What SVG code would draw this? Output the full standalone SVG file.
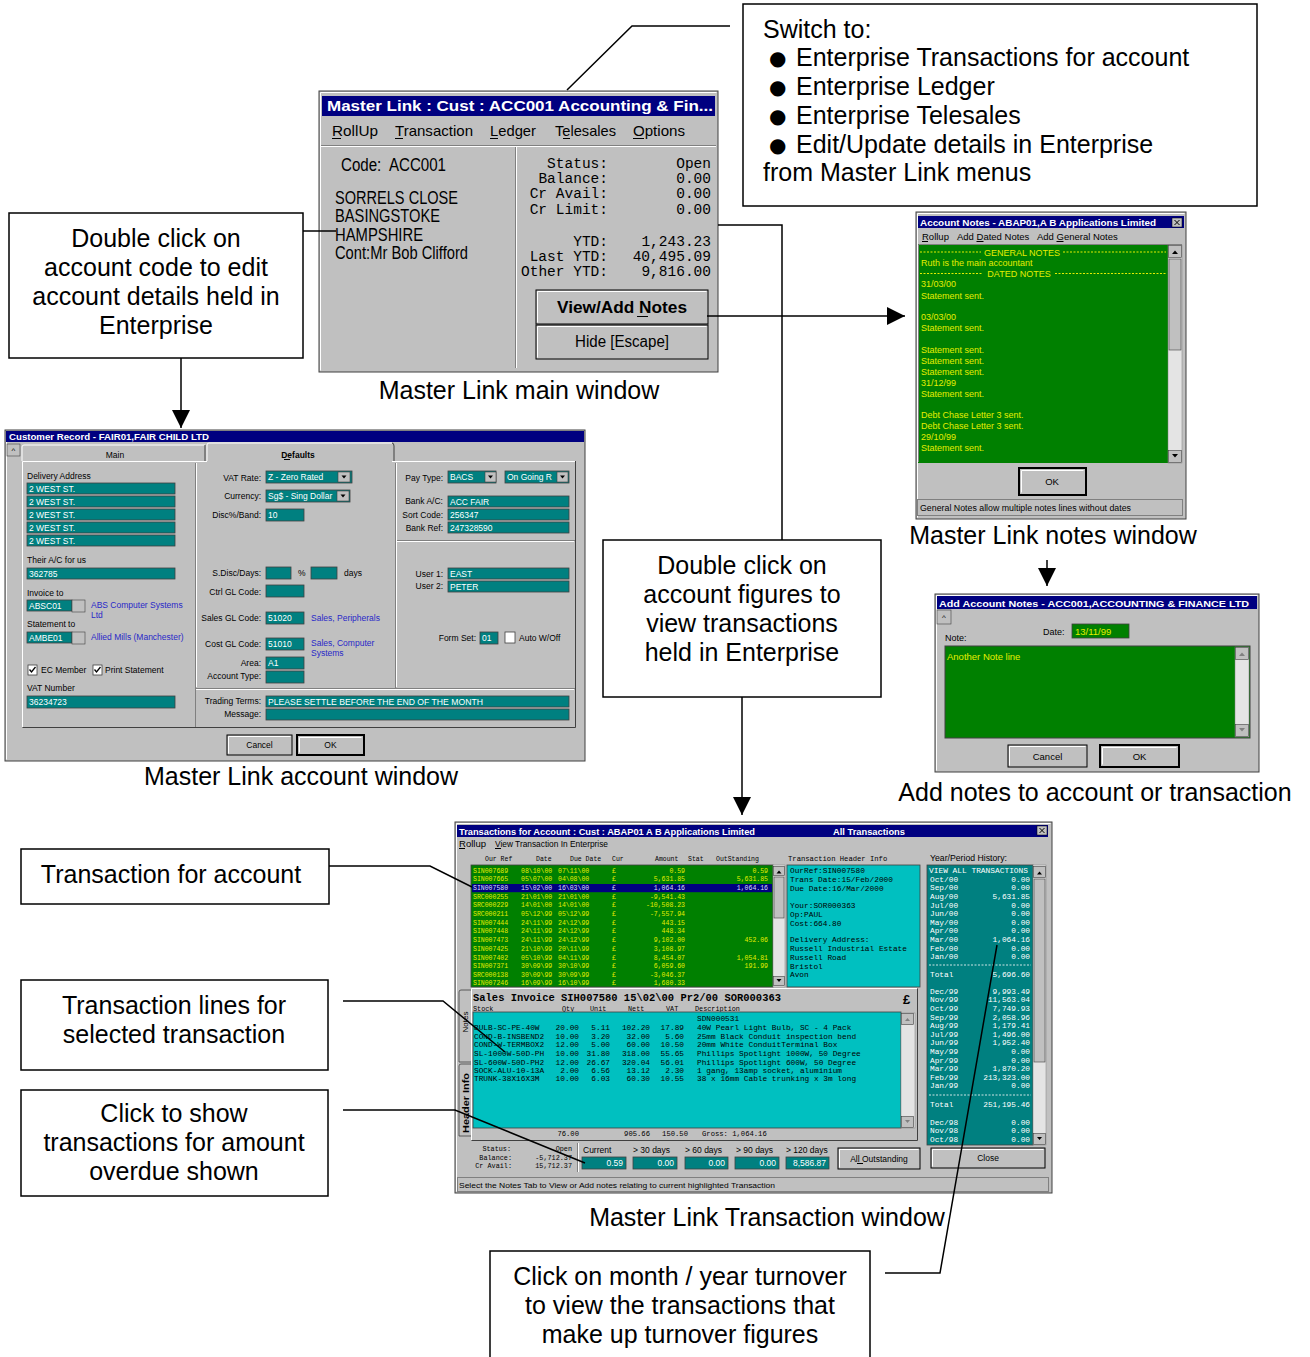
<svg xmlns="http://www.w3.org/2000/svg" width="1310" height="1357" viewBox="0 0 1310 1357">
<defs>
<style>
.ct{font-family:"Liberation Sans",Arial,sans-serif;font-size:25px;fill:#000}
.cc{text-anchor:middle}
.cb{fill:#fff;stroke:#000;stroke-width:1.5}
.cn{fill:none;stroke:#000;stroke-width:1.5}
.win{fill:#c0c0c0;stroke:#404040;stroke-width:1}
.ttl{fill:#000080}
.tt{font-family:"Liberation Sans",Arial,sans-serif;font-weight:bold;fill:#fff}
.u{font-family:"Liberation Sans",Arial,sans-serif;fill:#000}
.m{font-family:"Liberation Mono","DejaVu Sans Mono",monospace}
.fld{fill:#008080;stroke:#404040;stroke-width:0.8}
.ft{font-family:"Liberation Sans",Arial,sans-serif;font-size:8.5px;fill:#fff}
.lbl{font-family:"Liberation Sans",Arial,sans-serif;font-size:8.5px;fill:#000}
.blu{font-family:"Liberation Sans",Arial,sans-serif;font-size:8.5px;fill:#2828c8}
.btn{fill:#c0c0c0;stroke:#000;stroke-width:1}
.dbtn{fill:#c0c0c0;stroke:#000;stroke-width:2}
.hl{fill:none;stroke:#fff;stroke-width:1}
.sh{fill:none;stroke:#808080;stroke-width:1}
.gr{fill:#008000}
.yl{fill:#e4ee00}
.trk{fill:#e4e4e4;stroke:#808080;stroke-width:0.5}
.sb{fill:#c0c0c0;stroke:#404040;stroke-width:0.6}
.ul{stroke:#000;stroke-width:1}
</style>
<marker id="ah" viewBox="0 0 18 18" refX="18" refY="9" markerWidth="18" markerHeight="18" markerUnits="userSpaceOnUse" orient="auto"><path d="M0,0 L18,9 L0,18 z" fill="#000"/></marker>
</defs>
<rect width="1310" height="1357" fill="#fff"/>

<!-- ============ MAIN WINDOW ============ -->
<g id="main-window">
<rect class="win" x="319" y="91" width="399" height="281" stroke="#000"/>
<path class="hl" d="M320.5,370.5 V92.5 H716.5"/>
<rect class="ttl" x="322" y="96" width="393" height="20"/>
<text class="tt" x="327" y="111" font-size="15" textLength="386" lengthAdjust="spacingAndGlyphs">Master Link : Cust : ACC001 Accounting &amp; Fin...</text>
<g class="u" font-size="15">
<text x="332" y="136" textLength="46" lengthAdjust="spacingAndGlyphs">RollUp</text>
<text x="395" y="136" textLength="78" lengthAdjust="spacingAndGlyphs">Transaction</text>
<text x="490" y="136" textLength="46" lengthAdjust="spacingAndGlyphs">Ledger</text>
<text x="555" y="136" textLength="61" lengthAdjust="spacingAndGlyphs">Telesales</text>
<text x="633" y="136" textLength="52" lengthAdjust="spacingAndGlyphs">Options</text>
</g>
<path class="ul" d="M332,138.5h9 M395,138.5h8 M490,138.5h8 M563,138.5h7 M633,138.5h11"/>
<path class="sh" d="M321,145.5 H716 M515.5,147 V368"/>
<path class="hl" d="M321,146.5 H716 M516.5,147 V368"/>
<g class="u" font-size="18">
<text x="341" y="171" textLength="105" lengthAdjust="spacingAndGlyphs">Code:&#160; ACC001</text>
<text x="335" y="204" textLength="123" lengthAdjust="spacingAndGlyphs">SORRELS CLOSE</text>
<text x="335" y="222" textLength="105" lengthAdjust="spacingAndGlyphs">BASINGSTOKE</text>
<text x="335" y="241" textLength="88" lengthAdjust="spacingAndGlyphs">HAMPSHIRE</text>
<text x="335" y="259" textLength="133" lengthAdjust="spacingAndGlyphs">Cont:Mr Bob Clifford</text>
</g>
<g class="m" font-size="14.5" text-anchor="end">
<text x="608" y="168">Status:</text>
<text x="608" y="183">Balance:</text>
<text x="608" y="198">Cr Avail:</text>
<text x="608" y="214">Cr Limit:</text>
<text x="608" y="246">YTD:</text>
<text x="608" y="261">Last YTD:</text>
<text x="608" y="276">Other YTD:</text>
<text x="711" y="168">Open</text>
<text x="711" y="183">0.00</text>
<text x="711" y="198">0.00</text>
<text x="711" y="214">0.00</text>
<text x="711" y="246">1,243.23</text>
<text x="711" y="261">40,495.09</text>
<text x="711" y="276">9,816.00</text>
</g>
<rect class="btn" x="536" y="290" width="172" height="34"/>
<path class="hl" d="M537.5,322.5 V291.5 H706.5"/>
<text class="u cc" x="622" y="313" font-size="16" font-weight="bold" textLength="130" lengthAdjust="spacingAndGlyphs">View/Add Notes</text>
<path class="ul" d="M637,316.5h11"/>
<rect class="btn" x="536" y="325" width="172" height="34"/>
<path class="hl" d="M537.5,357.5 V326.5 H706.5"/>
<text class="u cc" x="622" y="347" font-size="16" textLength="94" lengthAdjust="spacingAndGlyphs">Hide [Escape]</text>
</g>

<!-- ============ NOTES WINDOW ============ -->
<g id="notes-window">
<rect class="win" x="916" y="212" width="270" height="307"/>
<path class="hl" d="M917.5,517.5 V213.5 H1184.5"/>
<rect class="ttl" x="918" y="216" width="266" height="12"/>
<text class="tt" x="920" y="226" font-size="9.5" textLength="236" lengthAdjust="spacingAndGlyphs">Account Notes - ABAP01,A B Applications Limited</text>
<rect x="1172" y="218" width="10" height="9" fill="#c0c0c0" stroke="#000" stroke-width="0.5"/>
<path d="M1174.5,220 l5,5 M1179.5,220 l-5,5" stroke="#000" stroke-width="1"/>
<g class="u" font-size="9.5">
<text x="922" y="240">Rollup</text>
<text x="957" y="240">Add Dated Notes</text>
<text x="1037" y="240">Add General Notes</text>
</g>
<path class="ul" d="M922,241.5h6 M976.5,241.5h7 M1056.5,241.5h7"/>
<rect class="gr" x="918" y="244" width="250" height="219"/>
<path class="sh" d="M918.5,462 V244.5 H1182"/>
<rect class="trk" x="1168" y="245" width="14" height="218"/>
<rect class="sb" x="1168.5" y="245.5" width="13" height="12"/>
<path d="M1172,254 h6 l-3,-3.5 z" fill="#000"/>
<rect class="sb" x="1169" y="259" width="12" height="91"/>
<rect class="sb" x="1168.5" y="450.5" width="13" height="12"/>
<path d="M1172,454 h6 l-3,3.5 z" fill="#000"/>
<path d="M920,252 H981 M1063,252 H1166 M920,273.5 H983 M1055,273.5 H1166" stroke="#e4ee00" stroke-width="1" stroke-dasharray="2,1.5"/>
<g class="u yl" font-size="9">
<text x="1022" y="255.5" text-anchor="middle">GENERAL NOTES</text>
<text x="1019" y="277" text-anchor="middle">DATED NOTES</text>
<text x="921" y="265.5">Ruth is the main accountant</text>
<text x="921" y="287">31/03/00</text>
<text x="921" y="299">Statement sent.</text>
<text x="921" y="320">03/03/00</text>
<text x="921" y="331">Statement sent.</text>
<text x="921" y="353">Statement sent.</text>
<text x="921" y="364">Statement sent.</text>
<text x="921" y="375">Statement sent.</text>
<text x="921" y="386">31/12/99</text>
<text x="921" y="397">Statement sent.</text>
<text x="921" y="418">Debt Chase Letter 3 sent.</text>
<text x="921" y="429">Debt Chase Letter 3 sent.</text>
<text x="921" y="440">29/10/99</text>
<text x="921" y="451">Statement sent.</text>
</g>
<rect class="dbtn" x="1019" y="468" width="67" height="27"/>
<path class="hl" d="M1021.5,492.5 V470.5 H1083.5"/>
<text class="u cc" x="1052" y="485" font-size="9.5">OK</text>
<rect x="917.5" y="499.5" width="265" height="16" fill="none" stroke="#808080"/>
<text class="u" x="920" y="511" font-size="8.5" textLength="211" lengthAdjust="spacingAndGlyphs">General Notes allow multiple notes lines without dates</text>
</g>

<!-- ============ ACCOUNT (CUSTOMER RECORD) WINDOW ============ -->
<g id="account-window">
<rect class="win" x="5" y="430" width="580" height="331"/>
<path class="hl" d="M6.5,759.5 V431.5 H583.5"/>
<rect class="ttl" x="6" y="431" width="578" height="11"/>
<text class="tt" x="9" y="440" font-size="9" textLength="200" lengthAdjust="spacingAndGlyphs">Customer Record - FAIR01,FAIR CHILD LTD</text>
<rect class="sb" x="7" y="444" width="13" height="12"/>
<text class="u cc" x="13.5" y="453" font-size="8">^</text>
<!-- tabs -->
<path d="M22,461 V447 Q22,445 24,445 H205" fill="none" stroke="#fff"/>
<path d="M205,445 V461" stroke="#404040"/>
<text class="lbl cc" x="115" y="458">Main</text>
<path d="M207,461 V445 Q207,443 209,443 H392" fill="none" stroke="#fff"/>
<path d="M392,443 Q394,443 394,446 V461" fill="none" stroke="#404040"/>
<text class="lbl cc" x="298" y="458" font-weight="bold">Defaults</text>
<path class="ul" d="M284,459.5h6" stroke-width="0.8"/>
<!-- panel -->
<path class="hl" d="M22.5,727 V461.5 H207 M392,461.5 H575"/>
<path d="M22.5,727.5 H575.5 V461" fill="none" stroke="#404040"/>
<path class="sh" d="M195.5,463 V727 M195,688.5 H575 M395.5,463 V688 M395,540.5 H575"/>
<path class="hl" d="M196.5,463 V687 M196,689.5 H574 M396.5,463 V687 M396,541.5 H574"/>
<!-- left column -->
<text class="lbl" x="27" y="479">Delivery Address</text>
<rect class="fld" x="27" y="483" width="148" height="11"/>
<rect class="fld" x="27" y="496" width="148" height="11"/>
<rect class="fld" x="27" y="509" width="148" height="11"/>
<rect class="fld" x="27" y="522" width="148" height="11"/>
<rect class="fld" x="27" y="535" width="148" height="11"/>
<g class="ft">
<text x="29" y="492">2 WEST ST.</text>
<text x="29" y="505">2 WEST ST.</text>
<text x="29" y="518">2 WEST ST.</text>
<text x="29" y="531">2 WEST ST.</text>
<text x="29" y="544">2 WEST ST.</text>
</g>
<text class="lbl" x="27" y="563">Their A/C for us</text>
<rect class="fld" x="27" y="568" width="148" height="11"/>
<text class="ft" x="29" y="577">362785</text>
<text class="lbl" x="27" y="596">Invoice to</text>
<rect class="fld" x="27" y="600" width="45" height="11"/>
<text class="ft" x="29" y="609">ABSC01</text>
<rect class="sb" x="72" y="600" width="13" height="12"/>
<text class="blu" x="91" y="608">ABS Computer Systems</text>
<text class="blu" x="91" y="618">Ltd</text>
<text class="lbl" x="27" y="627">Statement to</text>
<rect class="fld" x="27" y="632" width="45" height="11"/>
<text class="ft" x="29" y="641">AMBE01</text>
<rect class="sb" x="72" y="632" width="13" height="12"/>
<text class="blu" x="91" y="640">Allied Mills (Manchester)</text>
<rect x="28" y="665" width="9" height="10" fill="#fff" stroke="#404040" stroke-width="0.8"/>
<path d="M29.5,669.5 l2,2.5 l4,-5" fill="none" stroke="#000" stroke-width="1.3"/>
<text class="lbl" x="41" y="673">EC Member</text>
<rect x="93" y="665" width="9" height="10" fill="#fff" stroke="#404040" stroke-width="0.8"/>
<path d="M94.5,669.5 l2,2.5 l4,-5" fill="none" stroke="#000" stroke-width="1.3"/>
<text class="lbl" x="105" y="673">Print Statement</text>
<text class="lbl" x="27" y="691">VAT Number</text>
<rect class="fld" x="27" y="696" width="148" height="12"/>
<text class="ft" x="29" y="705">36234723</text>
<!-- middle column -->
<g class="lbl" text-anchor="end">
<text x="261" y="481">VAT Rate:</text>
<text x="261" y="499">Currency:</text>
<text x="261" y="518">Disc%/Band:</text>
<text x="261" y="576">S.Disc/Days:</text>
<text x="261" y="595">Ctrl GL Code:</text>
<text x="261" y="621">Sales GL Code:</text>
<text x="261" y="647">Cost GL Code:</text>
<text x="261" y="666">Area:</text>
<text x="261" y="679">Account Type:</text>
<text x="261" y="704">Trading Terms:</text>
<text x="261" y="717">Message:</text>
</g>
<rect class="fld" x="266" y="471" width="86" height="12"/>
<text class="ft" x="268" y="480">Z - Zero Rated</text>
<rect class="sb" x="338" y="472" width="12" height="10"/>
<path d="M341.5,475.5 h5 l-2.5,3 z" fill="#000"/>
<rect class="fld" x="266" y="490" width="84" height="12"/>
<text class="ft" x="268" y="499">Sg$ - Sing Dollar</text>
<rect class="sb" x="337" y="491" width="12" height="10"/>
<path d="M340.5,494.5 h5 l-2.5,3 z" fill="#000"/>
<rect class="fld" x="266" y="509" width="38" height="12"/>
<text class="ft" x="268" y="518">10</text>
<rect class="fld" x="266" y="567" width="25" height="12"/>
<text class="lbl" x="298" y="576">%</text>
<rect class="fld" x="311" y="567" width="26" height="12"/>
<text class="lbl" x="344" y="576">days</text>
<rect class="fld" x="266" y="585" width="38" height="12"/>
<rect class="fld" x="266" y="612" width="38" height="12"/>
<text class="ft" x="268" y="621">51020</text>
<text class="blu" x="311" y="621">Sales, Peripherals</text>
<rect class="fld" x="266" y="638" width="38" height="12"/>
<text class="ft" x="268" y="647">51010</text>
<text class="blu" x="311" y="646">Sales, Computer</text>
<text class="blu" x="311" y="656">Systems</text>
<rect class="fld" x="266" y="657" width="38" height="12"/>
<text class="ft" x="268" y="666">A1</text>
<rect class="fld" x="266" y="671" width="38" height="12"/>
<rect class="fld" x="266" y="696" width="303" height="11"/>
<text class="ft" x="268" y="705" textLength="215" lengthAdjust="spacingAndGlyphs">PLEASE SETTLE BEFORE THE END OF THE MONTH</text>
<rect class="fld" x="266" y="709" width="303" height="11"/>
<!-- right column -->
<g class="lbl" text-anchor="end">
<text x="443" y="481">Pay Type:</text>
<text x="443" y="504">Bank A/C:</text>
<text x="443" y="518">Sort Code:</text>
<text x="443" y="531">Bank Ref:</text>
<text x="443" y="577">User 1:</text>
<text x="443" y="589">User 2:</text>
<text x="476" y="641">Form Set:</text>
</g>
<rect class="fld" x="448" y="471" width="48" height="12"/>
<text class="ft" x="450" y="480">BACS</text>
<rect class="sb" x="485" y="472" width="11" height="10"/>
<path d="M488,475.5 h5 l-2.5,3 z" fill="#000"/>
<rect class="fld" x="505" y="471" width="64" height="12"/>
<text class="ft" x="507" y="480">On Going R</text>
<rect class="sb" x="557" y="472" width="11" height="10"/>
<path d="M560,475.5 h5 l-2.5,3 z" fill="#000"/>
<rect class="fld" x="448" y="496" width="121" height="11"/>
<text class="ft" x="450" y="505">ACC FAIR</text>
<rect class="fld" x="448" y="509" width="121" height="11"/>
<text class="ft" x="450" y="518">256347</text>
<rect class="fld" x="448" y="522" width="121" height="11"/>
<text class="ft" x="450" y="531">247328590</text>
<rect class="fld" x="448" y="568" width="121" height="11"/>
<text class="ft" x="450" y="577">EAST</text>
<rect class="fld" x="448" y="581" width="121" height="11"/>
<text class="ft" x="450" y="590">PETER</text>
<rect class="fld" x="480" y="632" width="18" height="12"/>
<text class="ft" x="482" y="641">01</text>
<rect x="505" y="632" width="10" height="11" fill="#fff" stroke="#404040" stroke-width="0.8"/>
<text class="lbl" x="519" y="641">Auto W/Off</text>
<!-- buttons -->
<rect class="btn" x="227" y="735" width="65" height="20"/>
<path class="hl" d="M228.5,753.5 V736.5 H290.5"/>
<text class="lbl cc" x="259.5" y="748">Cancel</text>
<rect class="dbtn" x="297" y="735" width="67" height="20"/>
<path class="hl" d="M299.5,752.5 V737.5 H361.5"/>
<text class="lbl cc" x="330.5" y="748">OK</text>
</g>

<!-- ============ ADD NOTES WINDOW ============ -->
<g id="add-notes-window">
<rect class="win" x="935" y="594" width="324" height="178"/>
<path class="hl" d="M936.5,770.5 V595.5 H1257.5"/>
<rect class="ttl" x="937" y="596" width="320" height="13"/>
<text class="tt" x="939" y="606.5" font-size="9.5" textLength="310" lengthAdjust="spacingAndGlyphs">Add Account Notes - ACC001,ACCOUNTING &amp; FINANCE LTD</text>
<rect class="sb" x="937" y="610" width="14" height="14"/>
<text class="u cc" x="944" y="620" font-size="8">^</text>
<text class="u" x="945" y="641" font-size="9">Note:</text>
<text class="u" x="1043" y="635" font-size="9">Date:</text>
<rect x="1072" y="624" width="57" height="14" fill="#008000" stroke="#404040" stroke-width="0.8"/>
<text class="u yl" x="1075" y="635" font-size="9.5">13/11/99</text>
<rect x="945" y="646" width="305" height="92" fill="#008000" stroke="#404040" stroke-width="1"/>
<text class="u yl" x="947" y="660" font-size="9.5">Another Note line</text>
<rect class="trk" x="1235" y="647" width="14" height="90"/>
<rect class="sb" x="1235.5" y="647.5" width="13" height="12"/>
<path d="M1239,656 h6 l-3,-3.5 z" fill="#808080"/>
<rect class="sb" x="1235.5" y="724.5" width="13" height="12"/>
<path d="M1239,728 h6 l-3,3.5 z" fill="#808080"/>
<rect class="btn" x="1008" y="745" width="79" height="22"/>
<path class="hl" d="M1009.5,765.5 V746.5 H1085.5"/>
<text class="u cc" x="1047.5" y="760" font-size="9.5">Cancel</text>
<rect class="dbtn" x="1100" y="745" width="79" height="22"/>
<path class="hl" d="M1102.5,764.5 V747.5 H1176.5"/>
<text class="u cc" x="1139.5" y="760" font-size="9.5">OK</text>
</g>

<!-- ============ TRANSACTIONS WINDOW ============ -->
<g id="transactions-window">
<rect class="win" x="455" y="822" width="597" height="371"/>
<path class="hl" d="M456.5,1191.5 V823.5 H1050.5"/>
<rect class="ttl" x="457" y="825" width="591" height="12"/>
<text class="tt" x="459" y="834.5" font-size="9.5" textLength="296" lengthAdjust="spacingAndGlyphs">Transactions for Account : Cust : ABAP01 A B Applications Limited</text>
<text class="tt cc" x="869" y="834.5" font-size="9.5" textLength="72" lengthAdjust="spacingAndGlyphs">All Transactions</text>
<rect x="1037" y="826" width="10" height="9" fill="#c0c0c0" stroke="#000" stroke-width="0.5"/>
<path d="M1039.5,828 l5,5 M1044.5,828 l-5,5" stroke="#000" stroke-width="1"/>
<g class="u" font-size="9">
<text x="459" y="847" textLength="27" lengthAdjust="spacingAndGlyphs">Rollup</text>
<text x="495" y="847" textLength="113" lengthAdjust="spacingAndGlyphs">View Transaction In Enterprise</text>
</g>
<path class="ul" d="M459,848.5h6 M495,848.5h6"/>
<g class="m" font-size="6.5">
<text x="485" y="860.5">Our Ref</text>
<text x="536" y="860.5">Date</text>
<text x="570" y="860.5">Due Date</text>
<text x="612" y="860.5">Cur</text>
<text x="655" y="860.5">Amount</text>
<text x="688" y="860.5">Stat</text>
<text x="716" y="860.5">OutStanding</text>
</g>
<text class="m" x="788" y="860.5" font-size="7.2">Transaction Header Info</text>
<text class="u" x="930" y="860.5" font-size="9" textLength="77" lengthAdjust="spacingAndGlyphs">Year/Period History:</text>
<!-- list -->
<rect class="gr" x="471" y="865" width="302" height="122" stroke="#404040" stroke-width="0.8"/>
<rect x="472" y="884" width="300" height="8.2" fill="#000080"/>
<rect class="trk" x="773" y="865" width="12" height="122"/>
<rect class="sb" x="773.5" y="866.5" width="11" height="9"/>
<path d="M776.5,873.5 h5 l-2.5,-3 z" fill="#000"/>
<rect class="sb" x="774" y="877" width="10" height="41"/>
<rect class="sb" x="773.5" y="976.5" width="11" height="9"/>
<path d="M776.5,979 h5 l-2.5,3 z" fill="#000"/>
<g class="m yl" font-size="6.5">
<text x="473"><tspan x="473" y="872.5">SIN007689</tspan><tspan x="473" y="881.2">SIN007665</tspan><tspan x="473" y="898.6">SRC000255</tspan><tspan x="473" y="907.3">SRC000229</tspan><tspan x="473" y="916">SRC000211</tspan><tspan x="473" y="924.7">SIN007444</tspan><tspan x="473" y="933.4">SIN007448</tspan><tspan x="473" y="942.1">SIN007473</tspan><tspan x="473" y="950.8">SIN007425</tspan><tspan x="473" y="959.5">SIN007402</tspan><tspan x="473" y="968.2">SIN007371</tspan><tspan x="473" y="976.9">SRC000138</tspan><tspan x="473" y="985.4">SIN007246</tspan></text>
<text x="521"><tspan x="521" y="872.5">08\10\00</tspan><tspan x="521" y="881.2">05\07\00</tspan><tspan x="521" y="898.6">21\01\00</tspan><tspan x="521" y="907.3">14\01\00</tspan><tspan x="521" y="916">05\12\99</tspan><tspan x="521" y="924.7">24\11\99</tspan><tspan x="521" y="933.4">24\11\99</tspan><tspan x="521" y="942.1">24\11\99</tspan><tspan x="521" y="950.8">21\10\99</tspan><tspan x="521" y="959.5">05\10\99</tspan><tspan x="521" y="968.2">30\09\99</tspan><tspan x="521" y="976.9">30\09\99</tspan><tspan x="521" y="985.4">16\09\99</tspan></text>
<text x="558"><tspan x="558" y="872.5">07\11\00</tspan><tspan x="558" y="881.2">04\08\00</tspan><tspan x="558" y="898.6">21\01\00</tspan><tspan x="558" y="907.3">14\01\00</tspan><tspan x="558" y="916">05\12\99</tspan><tspan x="558" y="924.7">24\12\99</tspan><tspan x="558" y="933.4">24\12\99</tspan><tspan x="558" y="942.1">24\12\99</tspan><tspan x="558" y="950.8">20\11\99</tspan><tspan x="558" y="959.5">04\11\99</tspan><tspan x="558" y="968.2">30\10\99</tspan><tspan x="558" y="976.9">30\09\99</tspan><tspan x="558" y="985.4">16\10\99</tspan></text>
<text x="612"><tspan x="612" y="872.5">£</tspan><tspan x="612" y="881.2">£</tspan><tspan x="612" y="898.6">£</tspan><tspan x="612" y="907.3">£</tspan><tspan x="612" y="916">£</tspan><tspan x="612" y="924.7">£</tspan><tspan x="612" y="933.4">£</tspan><tspan x="612" y="942.1">£</tspan><tspan x="612" y="950.8">£</tspan><tspan x="612" y="959.5">£</tspan><tspan x="612" y="968.2">£</tspan><tspan x="612" y="976.9">£</tspan><tspan x="612" y="985.4">£</tspan></text>
<text x="685" text-anchor="end"><tspan x="685" y="872.5">0.59</tspan><tspan x="685" y="881.2">5,631.85</tspan><tspan x="685" y="898.6">-9,541.43</tspan><tspan x="685" y="907.3">-10,508.23</tspan><tspan x="685" y="916">-7,557.94</tspan><tspan x="685" y="924.7">443.15</tspan><tspan x="685" y="933.4">448.34</tspan><tspan x="685" y="942.1">9,102.00</tspan><tspan x="685" y="950.8">3,108.97</tspan><tspan x="685" y="959.5">8,454.07</tspan><tspan x="685" y="968.2">6,059.60</tspan><tspan x="685" y="976.9">-3,046.37</tspan><tspan x="685" y="985.4">1,680.33</tspan></text>
<text x="768" text-anchor="end"><tspan x="768" y="872.5">0.59</tspan><tspan x="768" y="881.2">5,631.85</tspan><tspan x="768" y="942.1">452.06</tspan><tspan x="768" y="959.5">1,054.81</tspan><tspan x="768" y="968.2">191.99</tspan></text>
</g>
<g class="m" font-size="6.5" fill="#dcdcff">
<text x="473" y="889.9">SIN007580</text>
<text x="521" y="889.9">15\02\00</text>
<text x="558" y="889.9">16\03\00</text>
<text x="612" y="889.9">£</text>
<text x="685" y="889.9" text-anchor="end">1,064.16</text>
<text x="768" y="889.9" text-anchor="end">1,064.16</text>
</g>
<!-- header info -->
<rect x="787" y="865" width="133" height="122" fill="#00c0c0" stroke="#404040" stroke-width="0.8"/>
<g class="m" font-size="7.8" fill="#000">
<text x="790"><tspan x="790" y="873">OurRef:SIN007580</tspan><tspan x="790" y="882">Trans Date:15/Feb/2000</tspan><tspan x="790" y="891">Due Date:16/Mar/2000</tspan><tspan x="790" y="908">Your:SOR000363</tspan><tspan x="790" y="917">Op:PAUL</tspan><tspan x="790" y="926">Cost:664.80</tspan><tspan x="790" y="942">Delivery Address:</tspan><tspan x="790" y="951">Russell Industrial Estate</tspan><tspan x="790" y="960">Russell Road</tspan><tspan x="790" y="969">Bristol</tspan><tspan x="790" y="977">Avon</tspan></text>
</g>
<!-- year/period history -->
<rect x="927" y="865" width="106" height="280" fill="#008080" stroke="#404040" stroke-width="0.8"/>
<rect class="trk" x="1033" y="865" width="13" height="280"/>
<rect class="sb" x="1033.5" y="866.5" width="12" height="11"/>
<path d="M1037,874.5 h5 l-2.5,-3 z" fill="#000"/>
<rect class="sb" x="1034" y="879" width="11" height="183"/>
<rect class="sb" x="1033.5" y="1133.5" width="12" height="11"/>
<path d="M1037,1137 h5 l-2.5,3 z" fill="#000"/>
<path d="M929,965 H1031 M929,1095 H1031" stroke="#fff" stroke-width="0.8" stroke-dasharray="2,1.5"/>
<g class="m" font-size="7.8" fill="#fff">
<text x="929" y="872.8" textLength="99" lengthAdjust="spacingAndGlyphs">VIEW ALL TRANSACTIONS</text>
<text x="930"><tspan x="930" y="881.8">Oct/00</tspan><tspan x="930" y="890.4">Sep/00</tspan><tspan x="930" y="899">Aug/00</tspan><tspan x="930" y="907.6">Jul/00</tspan><tspan x="930" y="916.2">Jun/00</tspan><tspan x="930" y="924.8">May/00</tspan><tspan x="930" y="933.4">Apr/00</tspan><tspan x="930" y="942">Mar/00</tspan><tspan x="930" y="950.6">Feb/00</tspan><tspan x="930" y="959.2">Jan/00</tspan><tspan x="930" y="976.8">Total</tspan><tspan x="930" y="993.8">Dec/99</tspan><tspan x="930" y="1002.4">Nov/99</tspan><tspan x="930" y="1011">Oct/99</tspan><tspan x="930" y="1019.6">Sep/99</tspan><tspan x="930" y="1028.2">Aug/99</tspan><tspan x="930" y="1036.8">Jul/99</tspan><tspan x="930" y="1045.4">Jun/99</tspan><tspan x="930" y="1054">May/99</tspan><tspan x="930" y="1062.6">Apr/99</tspan><tspan x="930" y="1071.2">Mar/99</tspan><tspan x="930" y="1079.8">Feb/99</tspan><tspan x="930" y="1088.4">Jan/99</tspan><tspan x="930" y="1106.8">Total</tspan><tspan x="930" y="1124.8">Dec/98</tspan><tspan x="930" y="1133.4">Nov/98</tspan><tspan x="930" y="1142">Oct/98</tspan></text>
<text x="1030" text-anchor="end"><tspan x="1030" y="881.8">0.00</tspan><tspan x="1030" y="890.4">0.00</tspan><tspan x="1030" y="899">5,631.85</tspan><tspan x="1030" y="907.6">0.00</tspan><tspan x="1030" y="916.2">0.00</tspan><tspan x="1030" y="924.8">0.00</tspan><tspan x="1030" y="933.4">0.00</tspan><tspan x="1030" y="942">1,064.16</tspan><tspan x="1030" y="950.6">0.00</tspan><tspan x="1030" y="959.2">0.00</tspan><tspan x="1030" y="976.8">5,696.60</tspan><tspan x="1030" y="993.8">9,993.49</tspan><tspan x="1030" y="1002.4">11,563.04</tspan><tspan x="1030" y="1011">7,749.93</tspan><tspan x="1030" y="1019.6">2,058.96</tspan><tspan x="1030" y="1028.2">1,179.41</tspan><tspan x="1030" y="1036.8">1,496.00</tspan><tspan x="1030" y="1045.4">1,952.40</tspan><tspan x="1030" y="1054">0.00</tspan><tspan x="1030" y="1062.6">0.00</tspan><tspan x="1030" y="1071.2">1,870.20</tspan><tspan x="1030" y="1079.8">213,323.00</tspan><tspan x="1030" y="1088.4">0.00</tspan><tspan x="1030" y="1106.8">251,195.46</tspan><tspan x="1030" y="1124.8">0.00</tspan><tspan x="1030" y="1133.4">0.00</tspan><tspan x="1030" y="1142">0.00</tspan></text>
</g>
<!-- sales invoice panel with tabs -->
<path d="M471,1062 H459 V992 Q459,990 461,990 H471" fill="#c0c0c0" stroke="#404040" stroke-width="0.8"/>
<text class="u cc" transform="translate(467.5,1022) rotate(-90)" font-size="8">Notes</text>
<path d="M472,1136 H459 V1066 Q459,1064 461,1064 H472" fill="#c0c0c0" stroke="#404040" stroke-width="0.8"/>
<text class="u cc" transform="translate(468.5,1103) rotate(-90)" font-size="9" font-weight="bold" textLength="60" lengthAdjust="spacingAndGlyphs">Header Info</text>
<path class="hl" d="M471.5,1140 V988.5 H917"/>
<path d="M471.5,1140.5 H917.5 V988.5" fill="none" stroke="#404040"/>
<text class="m" x="473" y="1001" font-size="10.5" font-weight="bold" textLength="308" lengthAdjust="spacingAndGlyphs">Sales Invoice SIH007580 15\02\00 Pr2/00 SOR000363</text>
<text class="u" x="903" y="1004" font-size="13" font-weight="bold">£</text>
<g class="m" font-size="6.8">
<text x="473" y="1010.5">Stock</text>
<text x="562" y="1010.5">Qty</text>
<text x="590" y="1010.5">Unit</text>
<text x="628" y="1010.5">Nett</text>
<text x="666" y="1010.5">VAT</text>
<text x="695" y="1010.5">Description</text>
</g>
<rect x="473" y="1012" width="428" height="116" fill="#00c0c0" stroke="#404040" stroke-width="0.8"/>
<rect class="trk" x="901" y="1013" width="14" height="115"/>
<rect class="sb" x="901.5" y="1013.5" width="12" height="11"/>
<path d="M905,1021 h5 l-2.5,-3 z" fill="#808080"/>
<rect class="sb" x="901.5" y="1116.5" width="12" height="11"/>
<path d="M905,1120 h5 l-2.5,3 z" fill="#808080"/>
<g class="m" font-size="7.8" fill="#000">
<text x="474"><tspan x="474" y="1030">BULB-SC-PE-40W</tspan><tspan x="474" y="1039">COND-B-INSBEND2</tspan><tspan x="474" y="1047">COND-W-TERMBOX2</tspan><tspan x="474" y="1056">SL-1000W-50D-PH</tspan><tspan x="474" y="1065">SL-600W-50D-PH2</tspan><tspan x="474" y="1073">SOCK-ALU-10-13A</tspan><tspan x="474" y="1081">TRUNK-38X16X3M</tspan></text>
<text x="579" text-anchor="end"><tspan x="579" y="1030">20.00</tspan><tspan x="579" y="1039">10.00</tspan><tspan x="579" y="1047">12.00</tspan><tspan x="579" y="1056">10.00</tspan><tspan x="579" y="1065">12.00</tspan><tspan x="579" y="1073">2.00</tspan><tspan x="579" y="1081">10.00</tspan></text>
<text x="610" text-anchor="end"><tspan x="610" y="1030">5.11</tspan><tspan x="610" y="1039">3.20</tspan><tspan x="610" y="1047">5.00</tspan><tspan x="610" y="1056">31.80</tspan><tspan x="610" y="1065">26.67</tspan><tspan x="610" y="1073">6.56</tspan><tspan x="610" y="1081">6.03</tspan></text>
<text x="650" text-anchor="end"><tspan x="650" y="1030">102.20</tspan><tspan x="650" y="1039">32.00</tspan><tspan x="650" y="1047">60.00</tspan><tspan x="650" y="1056">318.00</tspan><tspan x="650" y="1065">320.04</tspan><tspan x="650" y="1073">13.12</tspan><tspan x="650" y="1081">60.30</tspan></text>
<text x="684" text-anchor="end"><tspan x="684" y="1030">17.89</tspan><tspan x="684" y="1039">5.60</tspan><tspan x="684" y="1047">10.50</tspan><tspan x="684" y="1056">55.65</tspan><tspan x="684" y="1065">56.01</tspan><tspan x="684" y="1073">2.30</tspan><tspan x="684" y="1081">10.55</tspan></text>
<text x="697"><tspan x="697" y="1021">SDN000531</tspan><tspan x="697" y="1030">40W Pearl Light Bulb, SC - 4 Pack</tspan><tspan x="697" y="1039">25mm Black Conduit inspection bend</tspan><tspan x="697" y="1047">20mm White ConduitTerminal Box</tspan><tspan x="697" y="1056">Phillips Spotlight 1000W, 50 Degree</tspan><tspan x="697" y="1065">Phillips Spotlight 600W, 50 Degree</tspan><tspan x="697" y="1073">1 gang, 13amp socket, aluminium</tspan><tspan x="697" y="1081">38 x 16mm Cable trunking x 3m long</tspan></text>
</g>
<g class="m" font-size="7.2" fill="#000">
<text x="579" y="1136" text-anchor="end">76.00</text>
<text x="650" y="1136" text-anchor="end">905.66</text>
<text x="688" y="1136" text-anchor="end">150.50</text>
<text x="702" y="1136">Gross: 1,064.16</text>
</g>
<!-- bottom status -->
<g class="m" font-size="6.8" text-anchor="end">
<text x="511" y="1150.5">Status:</text>
<text x="512" y="1159.5">Balance:</text>
<text x="512" y="1168">Cr Avail:</text>
<text x="572" y="1150.5">Open</text>
<text x="572" y="1159.5">-5,712.37</text>
<text x="572" y="1168">15,712.37</text>
</g>
<path class="sh" d="M577.5,1143 V1172"/>
<path class="hl" d="M578.5,1143 V1172"/>
<g class="lbl">
<text x="583" y="1153">Current</text>
<text x="633" y="1153">&gt; 30 days</text>
<text x="685" y="1153">&gt; 60 days</text>
<text x="736" y="1153">&gt; 90 days</text>
<text x="786" y="1153">&gt; 120 days</text>
</g>
<rect class="fld" x="582" y="1157" width="44" height="12"/>
<rect class="fld" x="633" y="1157" width="44" height="12"/>
<rect class="fld" x="685" y="1157" width="43" height="12"/>
<rect class="fld" x="735" y="1157" width="44" height="12"/>
<rect class="fld" x="786" y="1157" width="43" height="12"/>
<g class="ft" text-anchor="end">
<text x="623" y="1166">0.59</text>
<text x="674" y="1166">0.00</text>
<text x="725" y="1166">0.00</text>
<text x="776" y="1166">0.00</text>
<text x="826" y="1166">8,586.87</text>
</g>
<rect class="btn" x="838" y="1148" width="82" height="21"/>
<path class="hl" d="M839.5,1167.5 V1149.5 H918.5"/>
<text class="lbl cc" x="879" y="1162">All Outstanding</text>
<path class="ul" d="M857,1163.5h6" stroke-width="0.8"/>
<rect class="btn" x="931" y="1148" width="114" height="20"/>
<path class="hl" d="M932.5,1166.5 V1149.5 H1043.5"/>
<text class="lbl cc" x="988" y="1161">Close</text>
<rect x="457.5" y="1177.5" width="591" height="14" fill="none" stroke="#808080"/>
<text class="u" x="459" y="1187.5" font-size="8" textLength="316" lengthAdjust="spacingAndGlyphs">Select the Notes Tab to View or Add notes relating to current highlighted Transaction</text>
</g>

<!-- ============ CALLOUTS ============ -->
<g id="callout-switch">
<rect class="cb" x="743" y="4" width="514" height="202"/>
<text class="ct" x="763" y="38">Switch to:</text>
<g font-family="DejaVu Sans,sans-serif" font-size="20"><text x="769" y="65">●</text><text x="769" y="94">●</text><text x="769" y="123">●</text><text x="769" y="152">●</text></g>
<text class="ct" x="796" y="66">Enterprise Transactions for account</text>
<text class="ct" x="796" y="95">Enterprise Ledger</text>
<text class="ct" x="796" y="124">Enterprise Telesales</text>
<text class="ct" x="796" y="153">Edit/Update details in Enterprise</text>
<text class="ct" x="763" y="181">from Master Link menus</text>
</g>
<g id="callout-account-code">
<rect class="cb" x="9" y="213" width="294" height="145"/>
<text class="ct cc" x="156" y="247">Double click on</text>
<text class="ct cc" x="156" y="276">account code to edit</text>
<text class="ct cc" x="156" y="305">account details held in</text>
<text class="ct cc" x="156" y="334">Enterprise</text>
</g>
<g id="callout-account-figures">
<rect class="cb" x="603" y="540" width="278" height="157"/>
<text class="ct cc" x="742" y="574">Double click on</text>
<text class="ct cc" x="742" y="603">account figures to</text>
<text class="ct cc" x="742" y="632">view transactions</text>
<text class="ct cc" x="742" y="661">held in Enterprise</text>
</g>
<g id="callout-transaction-account">
<rect class="cb" x="21" y="849" width="308" height="55"/>
<text class="ct cc" x="171" y="883">Transaction for account</text>
</g>
<g id="callout-transaction-lines">
<rect class="cb" x="21" y="980" width="307" height="90"/>
<text class="ct cc" x="174" y="1014">Transaction lines for</text>
<text class="ct cc" x="174" y="1043">selected transaction</text>
</g>
<g id="callout-overdue">
<rect class="cb" x="21" y="1090" width="307" height="106"/>
<text class="ct cc" x="174" y="1122">Click to show</text>
<text class="ct cc" x="174" y="1151">transactions for amount</text>
<text class="ct cc" x="174" y="1180">overdue shown</text>
</g>
<g id="callout-turnover">
<rect class="cb" x="490" y="1251" width="380" height="112"/>
<text class="ct cc" x="680" y="1285">Click on month / year turnover</text>
<text class="ct cc" x="680" y="1314">to view the transactions that</text>
<text class="ct cc" x="680" y="1343">make up turnover figures</text>
</g>

<!-- ============ CAPTIONS ============ -->
<g id="captions">
<text class="ct cc" x="519" y="399">Master Link main window</text>
<text class="ct cc" x="1053" y="544">Master Link notes window</text>
<text class="ct cc" x="301" y="785">Master Link account window</text>
<text class="ct cc" x="1095" y="801">Add notes to account or transaction</text>
<text class="ct cc" x="767" y="1226">Master Link Transaction window</text>
</g>

<!-- ============ CONNECTORS ============ -->
<g id="connectors">
<polyline class="cn" points="730,26 632,26 567,90"/>
<line class="cn" x1="303" y1="231" x2="336" y2="231"/>
<line class="cn" x1="181" y1="358" x2="181" y2="428" marker-end="url(#ah)"/>
<polyline class="cn" points="718,225 782,225 782,540"/>
<line class="cn" x1="707" y1="316" x2="905" y2="316" marker-end="url(#ah)"/>
<line class="cn" x1="1047" y1="560" x2="1047" y2="586" marker-end="url(#ah)"/>
<line class="cn" x1="742" y1="697" x2="742" y2="815" marker-end="url(#ah)"/>
<polyline class="cn" points="329,866 430,866 472,887"/>
<polyline class="cn" points="343,1001 443,1001 505,1052"/>
<polyline class="cn" points="343,1110 455,1110 585,1163"/>
<polyline class="cn" points="885,1273 940,1273 997,945"/>
</g>
</svg>
